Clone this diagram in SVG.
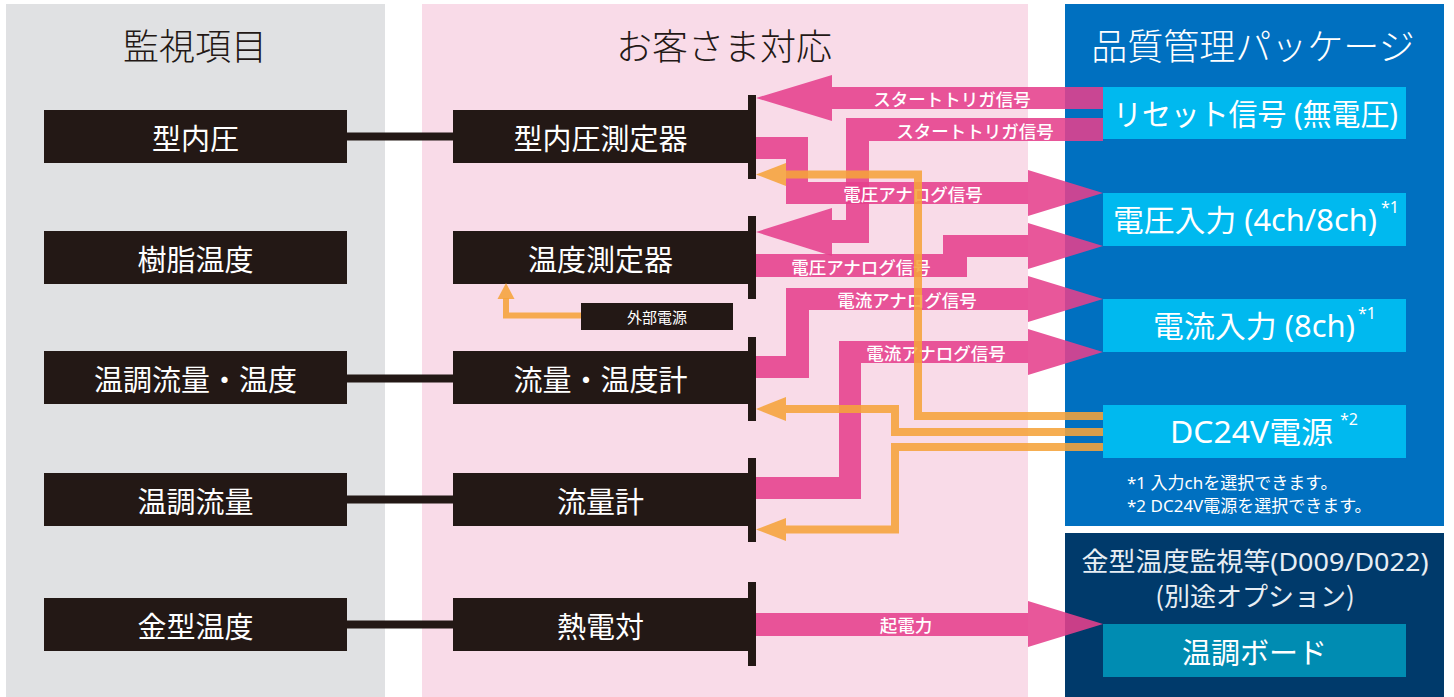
<svg xmlns="http://www.w3.org/2000/svg" width="1454" height="697" viewBox="0 0 1454 697">
<style>
text{font-family:"Noto Sans CJK JP","Noto Sans",sans-serif;}
.hd{font-size:36px;font-weight:300;text-anchor:middle;dominant-baseline:central;}
.nb{fill:#231815;}
.nt{fill:#fff;font-size:29px;text-anchor:middle;dominant-baseline:central;}
.bx{fill:#00b9ef;}
.bt{fill:#fff;font-size:30px;dominant-baseline:central;font-family:"Noto Sans","Noto Sans CJK JP",sans-serif;}
.sup{fill:#fff;font-size:16px;font-family:"Noto Sans",sans-serif;}
.pk{fill:#e5408c;opacity:0.88;}
.lb{fill:#fff;font-size:17.5px;font-weight:500;text-anchor:middle;dominant-baseline:central;}
.or{fill:none;stroke:#f5a33a;stroke-width:8;opacity:0.88;}
.oh{fill:#f5a33a;opacity:0.88;}
.note{fill:#fff;font-size:17px;dominant-baseline:central;font-family:"Noto Sans","Noto Sans CJK JP",sans-serif;}
.nv{fill:#e8eef4;font-size:26px;text-anchor:middle;dominant-baseline:central;}
</style>
<rect x="0" y="0" width="1454" height="697" fill="#fff"/>
<g id="panels">
<rect x="6" y="4" width="379" height="693" fill="#e0e1e3"/>
<rect x="422" y="4" width="606" height="693" fill="#f9dbe8"/>
<rect x="1065" y="4" width="379" height="522" fill="#0070c0"/>
<rect x="1065" y="533" width="379" height="164" fill="#003a6b"/>
<text class="hd" x="195" y="44" fill="#231815">監視項目</text>
<text class="hd" x="724" y="44" fill="#231815">お客さま対応</text>
<text class="hd" x="1253" y="44" fill="#fff">品質管理パッケージ</text>
</g>
<g id="links">
<rect x="347" y="132.5" width="106" height="8" class="nb"/>
<rect x="347" y="374.5" width="106" height="8" class="nb"/>
<rect x="347" y="495.5" width="106" height="8" class="nb"/>
<rect x="347" y="620.5" width="106" height="8" class="nb"/>
</g>
<g id="node-katanaiatsu"><rect class="nb" x="44" y="110" width="303" height="53"/><text class="nt" x="195.5" y="136.5">型内圧</text></g>
<g id="node-jushi"><rect class="nb" x="44" y="231" width="303" height="53"/><text class="nt" x="195.5" y="257.5">樹脂温度</text></g>
<g id="node-ryuryo-ondo"><rect class="nb" x="44" y="351" width="303" height="53"/><text class="nt" x="195.5" y="377.5">温調流量・温度</text></g>
<g id="node-ryuryo"><rect class="nb" x="44" y="473" width="303" height="53"/><text class="nt" x="195.5" y="499.5">温調流量</text></g>
<g id="node-kanagata"><rect class="nb" x="44" y="598" width="303" height="53"/><text class="nt" x="195.5" y="624.5">金型温度</text></g>
<g id="node-sokuteiki"><rect class="nb" x="453" y="110" width="295" height="53"/><rect class="nb" x="748" y="95" width="8" height="84"/><text class="nt" x="600.5" y="136.5">型内圧測定器</text></g>
<g id="node-ondosokutei"><rect class="nb" x="453" y="231" width="295" height="53"/><rect class="nb" x="748" y="216" width="8" height="83"/><text class="nt" x="600.5" y="257.5">温度測定器</text></g>
<g id="node-ryuryo-ondokei"><rect class="nb" x="453" y="351" width="295" height="53"/><rect class="nb" x="748" y="337" width="8" height="84"/><text class="nt" x="600.5" y="377.5">流量・温度計</text></g>
<g id="node-ryuryokei"><rect class="nb" x="453" y="473" width="295" height="53"/><rect class="nb" x="748" y="458" width="8" height="84"/><text class="nt" x="600.5" y="499.5">流量計</text></g>
<g id="node-netsudentsui"><rect class="nb" x="453" y="598" width="295" height="53"/><rect class="nb" x="748" y="582" width="8" height="84"/><text class="nt" x="600.5" y="624.5">熱電対</text></g>
<g id="node-gaibu"><rect class="nb" x="581" y="303" width="152" height="27"/><text x="657" y="316.5" fill="#fff" font-size="15" text-anchor="middle" dominant-baseline="central">外部電源</text></g>
<g id="connectors">
<polygon class="pk" points="1103,87 832,87 832,75 756,98 832,121 832,109 1103,109"/>
<polygon class="pk" points="1103,118 846,118 846,220 832,220 832,208 756,232 832,256 832,243 869,243 869,141 1103,141"/>
<polygon class="pk" points="756,137 808,137 808,182 1028,182 1028,170 1103,193 1028,216 1028,204 786,204 786,159 756,159"/>
<polygon class="pk" points="756,254 943,254 943,235 1028,235 1028,223 1103,246 1028,269 1028,257 967,257 967,277 756,277"/>
<polygon class="pk" points="756,356 786,356 786,288 1028,288 1028,276 1103,299 1028,322 1028,310 809,310 809,378 756,378"/>
<polygon class="pk" points="756,477 839,477 839,341 1028,341 1028,329 1103,352 1028,375 1028,363 861,363 861,499 756,499"/>
<polygon class="pk" points="756,613 1028,613 1028,601 1103,624 1028,647 1028,636 756,636"/>
<text class="lb" x="952" y="98">スタートトリガ信号</text>
<text class="lb" x="975" y="130">スタートトリガ信号</text>
<text class="lb" x="913" y="193">電圧アナログ信号</text>
<text class="lb" x="861" y="266">電圧アナログ信号</text>
<text class="lb" x="907" y="299">電流アナログ信号</text>
<text class="lb" x="936" y="352">電流アナログ信号</text>
<text class="lb" x="906" y="624.5">起電力</text>
<polyline class="or" points="1103,416 918,416 918,174.5 786,174.5"/>
<polygon class="oh" points="786,163 756,174.5 786,186"/>
<polyline class="or" points="1103,432 895,432 895,409 786,409"/>
<polygon class="oh" points="786,397 756,409 786,421"/>
<polyline class="or" points="1103,447 895,447 895,529.5 786,529.5"/>
<polygon class="oh" points="786,518 756,529.5 786,541"/>
<polyline class="or" style="stroke-width:6" points="581,315.5 506,315.5 506,298"/>
<polygon class="oh" points="497.5,299 506,283 514.5,299"/>
</g>
<g id="node-reset"><rect class="bx" x="1103" y="87" width="303" height="52"/><text class="bt" x="1113" y="113" textLength="285" lengthAdjust="spacingAndGlyphs">リセット信号 (無電圧)</text></g>
<g id="node-voltage"><rect class="bx" x="1103" y="193" width="303" height="53"/><text class="bt" x="1113" y="219.5" textLength="264" lengthAdjust="spacingAndGlyphs">電圧入力 (4ch/8ch)</text><text class="sup" x="1381" y="213">*1</text></g>
<g id="node-current"><rect class="bx" x="1103" y="299" width="303" height="53"/><text class="bt" x="1153" y="325.5" textLength="202" lengthAdjust="spacingAndGlyphs">電流入力 (8ch)</text><text class="sup" x="1358" y="319">*1</text></g>
<g id="node-dc24v"><rect class="bx" x="1103" y="405" width="303" height="53"/><text class="bt" x="1170" y="431.5" textLength="163" lengthAdjust="spacingAndGlyphs">DC24V電源</text><text class="sup" x="1340" y="425">*2</text></g>
<g id="notes">
<text class="note" x="1127" y="482">*1 入力chを選択できます。</text>
<text class="note" x="1127" y="505">*2 DC24V電源を選択できます。</text>
</g>
<g id="node-option">
<text class="nv" x="1255" y="561" style="font-family:'Noto Sans','Noto Sans CJK JP',sans-serif" textLength="347" lengthAdjust="spacingAndGlyphs">金型温度監視等(D009/D022)</text>
<text class="nv" x="1255" y="594.5">(別途オプション)</text>
</g>
<g id="node-board"><rect x="1103" y="624" width="303" height="53" fill="#008cb2"/><text class="nt" x="1254.5" y="650.5">温調ボード</text></g>
</svg>
